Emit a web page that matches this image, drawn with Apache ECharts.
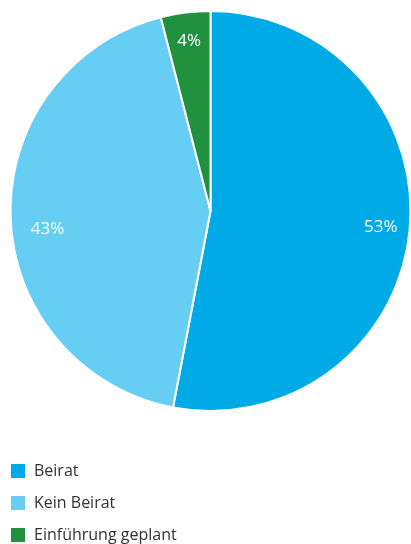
<!DOCTYPE html>
<html>
<head>
<meta charset="utf-8">
<script src="https://cdn.jsdelivr.net/npm/echarts@6/dist/echarts.min.js"></script>
<style>
  html, body { margin: 0; padding: 0; background: #fff; }
  #chart { width: 411px; height: 544px; }
</style>
</head>
<body>
<div id="chart"></div>
<script>
const categories = ['Beirat', 'Kein Beirat', 'Einführung geplant'];
const shares = [53, 43, 4];
const colors = ['#00aae6', '#66cdf3', '#21913f'];

const chart = echarts.init(document.getElementById('chart'));
const pieData = categories.map((name, i) => ({ name, value: shares[i] }));
// small nudge so the "43%" sits where the original puts it
const labelData = pieData.map((d, i) =>
  i === 1 ? Object.assign({}, d, { label: { offset: [8, 13] } }) : d
);

const option = {
  animation: false,
  color: colors,
  legend: {
    orient: 'vertical',
    left: 9,
    top: 462,
    height: 120,
    padding: 0,
    icon: 'rect',
    itemWidth: 16,
    itemHeight: 16,
    itemGap: 14,
    data: categories,
    textStyle: {
      fontFamily: 'Open Sans',
      fontSize: 16,
      lineHeight: 16,
      color: '#333',
      padding: [0, 0, 0, 3]
    }
  },
  series: [
    {
      type: 'pie',
      center: [210.5, 211],
      radius: [0, 200],
      startAngle: 90,
      clockwise: true,
      itemStyle: { borderColor: '#fff', borderWidth: 2 },
      label: { show: false },
      labelLine: { show: false },
      emphasis: { disabled: true },
      data: pieData
    },
    {
      // transparent ring only used to place the percentage labels
      type: 'pie',
      center: [210.5, 211],
      radius: [136, 200],
      startAngle: 90,
      clockwise: true,
      silent: true,
      itemStyle: { color: 'transparent', borderWidth: 0 },
      label: {
        show: true,
        position: 'inside',
        formatter: '{c}%',
        color: '#fff',
        fontFamily: 'Open Sans',
        fontSize: 17
      },
      labelLine: { show: false },
      emphasis: { disabled: true },
      data: labelData
    }
  ]
};
chart.setOption(option);
</script>
</body>
</html>
